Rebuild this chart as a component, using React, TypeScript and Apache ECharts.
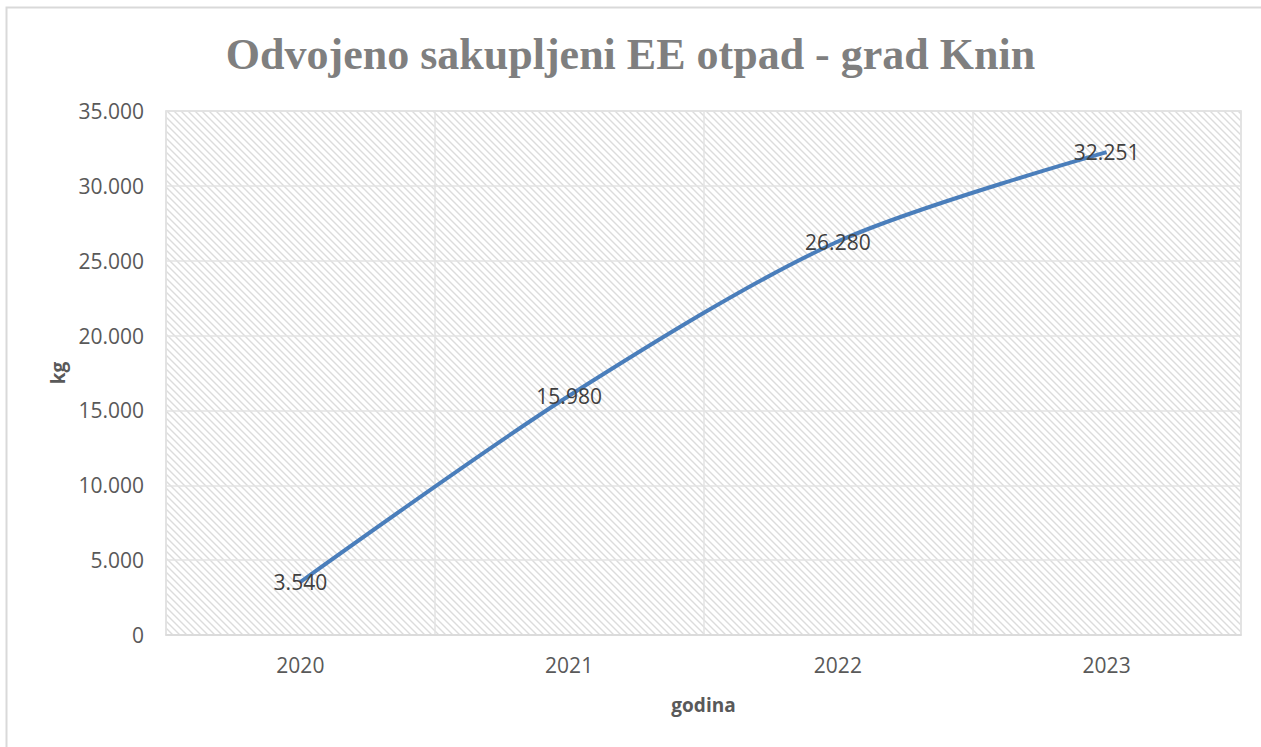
import React, { useEffect, useRef } from "react";
import * as echarts from "echarts";

const categories = ["2020", "2021", "2022", "2023"];
const values = [3540, 15980, 26280, 32251];
const titleText = "Odvojeno sakupljeni EE otpad - grad Knin";
const yName = "kg";
const xName = "godina";

function fmt(v: number): string {
  return String(Math.round(v)).replace(/\B(?=(\d{3})+(?!\d))/g, ".");
}

function makeHatch(): HTMLCanvasElement {
  const s = 7;
  const c = document.createElement("canvas");
  c.width = s;
  c.height = s;
  const ctx = c.getContext("2d")!;
  ctx.fillStyle = "#ffffff";
  ctx.fillRect(0, 0, s, s);
  ctx.strokeStyle = "#dcdcdc";
  ctx.lineWidth = 1.4;
  ctx.beginPath();
  ctx.moveTo(-1, -1);
  ctx.lineTo(s + 1, s + 1);
  ctx.moveTo(-s - 1, -1);
  ctx.lineTo(1, s + 1);
  ctx.moveTo(s - 1, -1);
  ctx.lineTo(2 * s + 1, s + 1);
  ctx.stroke();
  return c;
}

export default function App() {
  const ref = useRef<HTMLDivElement>(null);
  useEffect(() => {
    document.body.style.margin = "0";
    const chart = echarts.init(ref.current!, null, { renderer: "svg" });
    const hatch = makeHatch();
    const font = "'Open Sans', sans-serif";
    chart.setOption({
      animation: false,
      backgroundColor: "#ffffff",
      title: {
        text: titleText,
        left: "center",
        top: 27,
        textStyle: {
          fontFamily: "'Liberation Serif', serif",
          fontWeight: "bold",
          fontSize: 44,
          color: "#7f7f7f",
        },
      },
      graphic: [
        {
          type: "rect",
          shape: { x: 6.5, y: 7.5, width: 1300, height: 800 },
          style: { fill: "none", stroke: "#d9d9d9", lineWidth: 2 },
          silent: true,
          z: -1,
        },
      ],
      grid: {
        left: 166,
        top: 111,
        width: 1075,
        height: 524,
        show: true,
        backgroundColor: { image: hatch, repeat: "repeat" } as any,
        borderColor: "#d9d9d9",
        borderWidth: 1.5,
      },
      xAxis: {
        type: "category",
        data: categories,
        boundaryGap: true,
        name: xName,
        nameLocation: "middle",
        nameGap: 60,
        nameTextStyle: {
          fontFamily: font,
          fontWeight: "bold",
          fontSize: 19,
          color: "#595959",
        },
        axisLine: { show: true, lineStyle: { color: "#d9d9d9", width: 1.5 } },
        axisTick: { show: false },
        axisLabel: {
          fontFamily: font,
          fontSize: 21,
          color: "#595959",
          margin: 19,
        },
        splitLine: { show: true, lineStyle: { color: "#e3e3e3", width: 1.5 } },
      },
      yAxis: {
        type: "value",
        min: 0,
        max: 35000,
        interval: 5000,
        name: yName,
        nameLocation: "middle",
        nameGap: 94,
        nameRotate: 90,
        nameTextStyle: {
          fontFamily: font,
          fontWeight: "bold",
          fontSize: 19,
          color: "#595959",
        },
        axisLine: { show: false },
        axisTick: { show: false },
        axisLabel: {
          fontFamily: font,
          fontSize: 21,
          color: "#595959",
          margin: 22,
          formatter: (v: number) => fmt(v),
        },
        splitLine: { show: true, lineStyle: { color: "#e3e3e3", width: 1.5 } },
      },
      series: [
        {
          type: "line",
          data: values,
          smooth: 0.3,
          symbol: "circle",
          symbolSize: 2,
          showSymbol: true,
          itemStyle: { color: "rgba(0,0,0,0)", borderWidth: 0 },
          lineStyle: { color: "#4a7ebb", width: 4 },
          label: {
            show: true,
            position: "inside",
            fontFamily: font,
            fontSize: 21,
            color: "#404040",
            formatter: (p: any) => fmt(p.value),
          },
        },
      ],
    });
    return () => chart.dispose();
  }, []);
  return <div ref={ref} style={{ width: 1261, height: 747 }} />;
}
